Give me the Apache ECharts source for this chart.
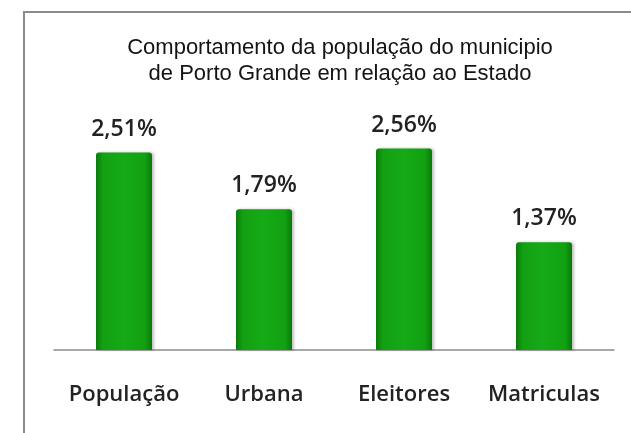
<!DOCTYPE html>
<html>
<head>
<meta charset="utf-8">
<script src="https://cdn.jsdelivr.net/npm/echarts@6/dist/echarts.min.js"></script>
<style>
html,body{margin:0;padding:0;background:#fff;}
#chart{width:631px;height:433px;}
</style>
</head>
<body>
<div id="chart"></div>
<script>
const categories = ['População', 'Urbana', 'Eleitores', 'Matriculas'];
const values = [2.51, 1.79, 2.56, 1.37];
const titleLines = ['Comportamento da população do municipio', 'de Porto Grande em relação ao Estado'];

const chart = echarts.init(document.getElementById('chart'));
chart.setOption({
  backgroundColor: '#ffffff',
  animation: false,
  graphic: [{
    type: 'rect',
    shape: { x: 24, y: 12, width: 700, height: 500 },
    style: { fill: 'none', stroke: '#8c8c8c', lineWidth: 2 },
    z: 0
  }],
  title: {
    text: titleLines.join('\n'),
    left: 335,
    textAlign: 'center',
    top: 30,
    textStyle: {
      fontFamily: 'Liberation Sans, Arial, sans-serif',
      fontSize: 22,
      fontWeight: 'normal',
      color: '#141414',
      lineHeight: 26
    }
  },
  grid: { left: 54, right: 17, top: 114, bottom: 83 },
  xAxis: {
    type: 'category',
    data: categories,
    axisLine: { lineStyle: { color: '#8c8c8c', width: 1.5 } },
    axisTick: { show: false },
    axisLabel: {
      interval: 0,
      margin: 34,
      fontFamily: 'Open Sans, sans-serif',
      fontSize: 22,
      fontWeight: 600,
      color: '#222'
    }
  },
  yAxis: {
    type: 'value',
    min: 0,
    max: 3,
    show: false,
    splitLine: { show: false }
  },
  series: [{
    type: 'bar',
    data: values,
    barWidth: 56,
    itemStyle: {
      color: new echarts.graphic.LinearGradient(0, 0, 1, 0, [
        { offset: 0, color: '#0a7a0a' },
        { offset: 0.12, color: '#12a012' },
        { offset: 0.5, color: '#16aa16' },
        { offset: 0.88, color: '#11a011' },
        { offset: 1, color: '#0a780a' }
      ]),
      borderRadius: [3, 3, 0, 0],
      shadowColor: 'rgba(0,0,0,0.25)',
      shadowBlur: 3,
      shadowOffsetX: 2
    },
    label: {
      show: true,
      position: 'top',
      distance: 12,
      formatter: p => p.value.toFixed(2).replace('.', ',') + '%',
      fontFamily: 'Open Sans, sans-serif',
      fontSize: 23,
      fontWeight: 600,
      color: '#222'
    }
  }]
});
</script>
</body>
</html>
